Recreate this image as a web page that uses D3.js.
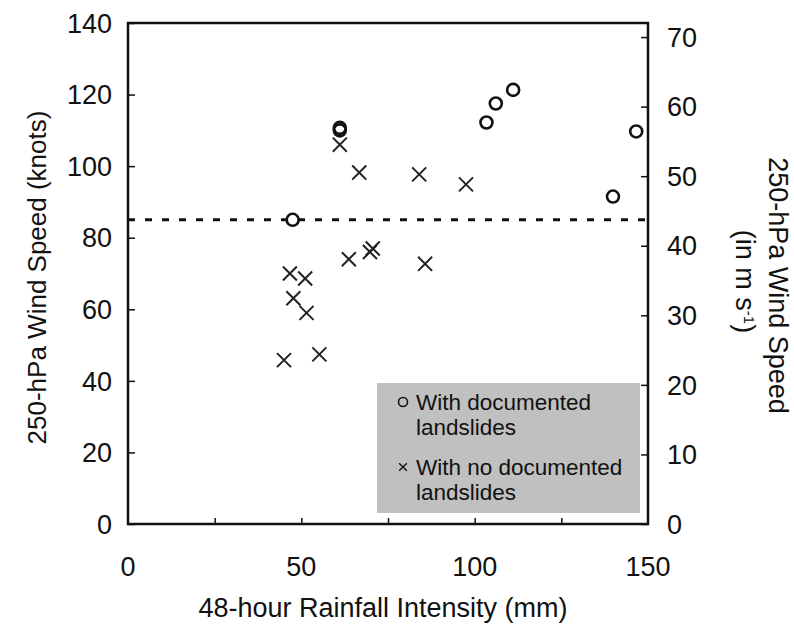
<!DOCTYPE html>
<html>
<head>
<meta charset="utf-8">
<script src="https://cdn.jsdelivr.net/npm/d3@7"></script>
<style>
  body { margin: 0; background: #fff; }
  text { font-family: "Liberation Sans", Arial, sans-serif; fill: #111; }
</style>
</head>
<body>
<div id="chart"></div>
<script>
(() => {
// events with documented landslides
const docRain = [47.5, 61.1, 61.1, 103.4, 106.1, 111.1, 139.9, 146.6];
const docWind = [85, 110, 110.7, 112.2, 117.5, 121.3, 91.5, 109.7];

// events with no documented landslides
const noDocRain = [61.1, 66.7, 84.0, 97.5, 63.7, 69.8, 70.6, 85.7, 46.7, 51.1, 47.7, 51.5, 45.0, 55.2];
const noDocWind = [106, 98.2, 97.7, 94.9, 74.0, 76.0, 77.0, 72.7, 70.0, 68.6, 63.1, 59.0, 45.8, 47.4];

const xTicks = [0, 50, 100, 150];
const xMinorTicks = [25, 50, 75, 100, 125];
const yTicks = [0, 20, 40, 60, 80, 100, 120, 140];
const y2Ticks = [0, 10, 20, 30, 40, 50, 60, 70];
const threshold = 85;            // knots
const knotsPerMs = 1.94384;

const legendLines = [
  ["With documented", "landslides"],
  ["With no documented", "landslides"]
];

const width = 794;
const height = 630;
const margin = { top: 23, right: 146, bottom: 106, left: 128 };

const svg = d3.select("#chart")
  .append("svg")
  .attr("width", width)
  .attr("height", height);

const x = d3.scaleLinear()
  .domain([0, 150])
  .range([margin.left, width - margin.right]);

const y = d3.scaleLinear()
  .domain([0, 140])
  .range([height - margin.bottom, margin.top]);

const y2 = d3.scaleLinear()
  .domain([0, 140 / knotsPerMs])
  .range([height - margin.bottom, margin.top]);

const tickFont = "27px";
const titleFont = "27px";

// left axis, ticks inward
svg.append("g")
  .attr("transform", `translate(${margin.left},0)`)
  .call(d3.axisRight(y).tickValues(yTicks).tickSize(7).tickFormat(""))
  .call(g => g.select(".domain").remove())
  .selectAll("line").attr("stroke", "#111").attr("stroke-width", 1.5);

svg.append("g")
  .selectAll("text")
  .data(yTicks)
  .enter()
  .append("text")
  .attr("x", margin.left - 16)
  .attr("y", d => y(d))
  .attr("dy", "0.36em")
  .attr("text-anchor", "end")
  .style("font-size", tickFont)
  .text(d => d);

// right axis (m/s), ticks inward
svg.append("g")
  .attr("transform", `translate(${width - margin.right},0)`)
  .call(d3.axisLeft(y2).tickValues(y2Ticks).tickSize(7).tickFormat(""))
  .call(g => g.select(".domain").remove())
  .selectAll("line").attr("stroke", "#111").attr("stroke-width", 1.5);

svg.append("g")
  .selectAll("text")
  .data(y2Ticks)
  .enter()
  .append("text")
  .attr("x", width - margin.right + 19)
  .attr("y", d => y2(d))
  .attr("dy", "0.36em")
  .attr("text-anchor", "start")
  .style("font-size", tickFont)
  .text(d => d);

// bottom axis, ticks inward
svg.append("g")
  .attr("transform", `translate(0,${height - margin.bottom})`)
  .call(d3.axisTop(x).tickValues(xMinorTicks).tickSize(6).tickFormat(""))
  .call(g => g.select(".domain").remove())
  .selectAll("line").attr("stroke", "#111").attr("stroke-width", 1.5);

svg.append("g")
  .selectAll("text")
  .data(xTicks)
  .enter()
  .append("text")
  .attr("x", d => x(d))
  .attr("y", height - margin.bottom + 42)
  .attr("dy", "0.36em")
  .attr("text-anchor", "middle")
  .style("font-size", tickFont)
  .text(d => d);

// axis titles
svg.append("text")
  .attr("x", x(75) - 5)
  .attr("y", 607)
  .attr("dy", "0.36em")
  .attr("text-anchor", "middle")
  .style("font-size", titleFont)
  .text("48-hour Rainfall Intensity (mm)");

svg.append("text")
  .attr("transform", `translate(37,${(y(0) + y(140)) / 2 + 4}) rotate(-90)`)
  .attr("text-anchor", "middle")
  .attr("dy", "0.36em")
  .style("font-size", "26px")
  .text("250-hPa Wind Speed (knots)");

const rightTitle = svg.append("g")
  .attr("transform", `translate(762,${(y(0) + y(140)) / 2 + 12}) rotate(90)`);

rightTitle.append("text")
  .attr("x", 0)
  .attr("y", -17)
  .attr("dy", "0.36em")
  .attr("text-anchor", "middle")
  .style("font-size", titleFont)
  .text("250-hPa Wind Speed");

const unit = rightTitle.append("text")
  .attr("x", -4)
  .attr("y", 16)
  .attr("dy", "0.36em")
  .attr("text-anchor", "middle")
  .style("font-size", titleFont);
unit.append("tspan").text("(in m s");
unit.append("tspan").attr("dy", "-0.5em").style("font-size", "15px").text("-1");
unit.append("tspan").attr("dy", "0.3em").text(")");

// legend box
const legend = svg.append("g");
legend.append("rect")
  .attr("x", 377)
  .attr("y", 383)
  .attr("width", 263)
  .attr("height", 130)
  .attr("fill", "#c0c0c0");

// threshold line
svg.append("line")
  .attr("x1", x(0))
  .attr("x2", x(150))
  .attr("y1", y(threshold))
  .attr("y2", y(threshold))
  .attr("stroke", "#111")
  .attr("stroke-width", 3)
  .attr("stroke-dasharray", "7,10");

// frame
svg.append("rect")
  .attr("x", x(0))
  .attr("y", y(140))
  .attr("width", x(150) - x(0))
  .attr("height", y(0) - y(140))
  .attr("fill", "none")
  .attr("stroke", "#111")
  .attr("stroke-width", 2.5);

// points
const noDoc = noDocRain.map((r, i) => ({ rain: r, wind: noDocWind[i] }));
const doc = docRain.map((r, i) => ({ rain: r, wind: docWind[i] }));

const cross = d3.symbol().type(d3.symbolX).size(130);

svg.append("g")
  .selectAll("path")
  .data(noDoc)
  .enter()
  .append("path")
  .attr("d", cross)
  .attr("transform", d => `translate(${x(d.rain)},${y(d.wind)})`)
  .attr("fill", "none")
  .attr("stroke", "#222")
  .attr("stroke-width", 2);

svg.append("g")
  .selectAll("circle")
  .data(doc)
  .enter()
  .append("circle")
  .attr("cx", d => x(d.rain))
  .attr("cy", d => y(d.wind))
  .attr("r", 6)
  .attr("fill", "none")
  .attr("stroke", "#111")
  .attr("stroke-width", 2.6);

// legend entries
const legendFont = "22.5px";
const rowY = [402, 467];
legendLines.forEach((lines, i) => {
  const row = legend.append("g")
    .attr("transform", `translate(403,${rowY[i]})`);
  if (i === 0) {
    row.append("circle")
      .attr("r", 4.5)
      .attr("fill", "none")
      .attr("stroke", "#111")
      .attr("stroke-width", 1.6);
  } else {
    row.append("path")
      .attr("d", d3.symbol().type(d3.symbolX).size(40))
      .attr("fill", "none")
      .attr("stroke", "#111")
      .attr("stroke-width", 1.4);
  }
  lines.forEach((t, j) => {
    row.append("text")
      .attr("x", 13)
      .attr("y", j * 25)
      .attr("dy", "0.36em")
      .style("font-size", legendFont)
      .text(t);
  });
});
})();
</script>
</body>
</html>
